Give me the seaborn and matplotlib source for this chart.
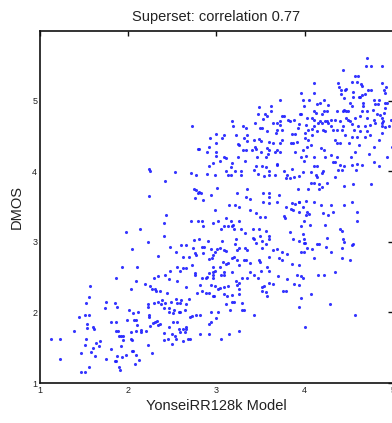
import matplotlib
matplotlib.use("Agg")
import matplotlib.pyplot as plt
import seaborn as sns
import pandas as pd

# (YonseiRR128k Model score, DMOS) pairs, grouped by region
upper_mid = [
    (2.72,4.65),(3.18,4.72),(3.19,4.64),(3.48,4.91),(3.47,4.81),(3.62,4.92),(3.62,4.85),(3.55,4.81),
    (3.57,4.78),(3.53,4.74),(3.64,4.69),(3.44,4.69),(3.49,4.62),(3.51,4.61),(3.57,4.57),(3.30,4.64),
    (3.33,4.62),(3.34,4.52),(3.22,4.52),(3.08,4.52),(3.00,4.53),(3.06,4.48),(2.93,4.48),(2.99,4.40),
    (3.24,4.39),(3.26,4.38),(3.35,4.43),(3.31,4.47),(3.42,4.45),(3.48,4.46),(3.50,4.43),(3.59,4.41),
    (3.57,4.33),(3.60,4.30),(3.64,4.40),(3.66,4.28),(3.44,4.34),(3.45,4.32),(3.40,4.31),(3.33,4.31),
    (3.30,4.31),(2.92,4.35),(2.79,4.32),(2.80,4.32),(2.89,4.27),(2.99,4.27),(3.08,4.20),(3.11,4.19),
    (2.99,4.22),(3.24,4.20),(3.46,4.20),(3.56,4.20),(3.58,4.25),(3.50,4.28),
]
upper_right = [
    (4.71,5.61),(4.69,5.50),(4.75,5.50),(4.88,5.50),(4.43,5.44),(4.57,5.35),(4.60,5.35),(4.59,5.26),
    (4.64,5.24),(4.65,5.21),(4.54,5.26),(4.38,5.25),(4.39,5.20),(4.11,5.25),(4.88,5.25),(4.92,5.20),
    (4.46,5.16),(4.41,5.15),(4.47,5.17),(4.55,5.12),(4.72,5.16),(4.75,5.16),(4.68,5.09),(4.65,5.08),
    (4.63,5.06),(4.61,5.06),(4.90,5.16),(4.91,5.11),(3.72,5.01),(3.96,5.11),(4.11,5.11),(4.41,5.09),
    (4.44,5.04),(4.05,5.01),(3.98,5.01),(4.22,5.01),(4.55,5.05),(4.79,5.01),(4.84,5.01),(4.66,4.97),
    (4.66,4.92),(4.80,4.96),(4.83,4.96),(4.91,4.97),(4.93,4.97),(4.14,4.96),(4.17,4.97),(4.26,4.94),
    (3.99,4.92),(4.51,4.97),(4.54,4.92),(4.45,4.87),(4.43,4.86),(4.47,4.86),(4.49,4.86),(4.36,4.86),
    (4.25,4.86),(4.22,4.86),(4.11,4.86),(4.13,4.83),(4.19,4.82),(4.65,4.85),(4.71,4.85),(4.77,4.87),
    (4.82,4.82),(4.91,4.90),(4.90,4.83),(3.77,4.79),(3.74,4.78),(3.72,4.72),(3.81,4.73),(3.83,4.72),
    (3.95,4.81),(3.96,4.81),(3.88,4.73),(4.02,4.75),(4.08,4.75),(4.11,4.73),(4.17,4.71),(4.23,4.72),
    (4.25,4.71),(4.30,4.73),(4.34,4.73),(4.47,4.75),(4.49,4.73),(4.57,4.75),(4.63,4.78),(4.70,4.75),
    (4.78,4.73),(4.87,4.75),(4.85,4.80),(4.89,4.71),(4.98,4.73),(3.68,4.68),(3.72,4.66),(3.68,4.58),
    (3.74,4.58),(3.67,4.54),(3.94,4.67),(4.01,4.66),(4.04,4.59),(4.08,4.60),(4.11,4.64),(4.15,4.69),
    (4.19,4.69),(4.26,4.69),(4.30,4.65),(4.32,4.59),(4.40,4.71),(4.43,4.64),(4.51,4.71),(4.54,4.67),
    (4.56,4.59),(4.60,4.64),(4.68,4.64),(4.74,4.66),(4.80,4.68),(4.88,4.68),(4.88,4.64),(4.91,4.63),
    (4.96,4.64),(4.88,4.54),(4.63,4.57),(4.70,4.57),(4.74,4.52),(3.85,4.53),(3.89,4.53),(3.92,4.61),
    (4.00,4.54),(4.08,4.52),(4.14,4.57),(4.21,4.59),(4.23,4.57),(4.36,4.59),(4.42,4.59),(4.46,4.52),
    (4.53,4.49),(4.59,4.49),(4.68,4.49),(4.84,4.44),(3.74,4.45),(3.84,4.40),(3.87,4.40),(3.91,4.42),
    (4.04,4.45),(4.00,4.47),(3.98,4.31),(4.02,4.35),(4.07,4.38),(4.18,4.33),(4.22,4.31),(4.34,4.45),
    (4.36,4.40),(4.40,4.40),(4.50,4.40),(4.62,4.38),(4.79,4.35),(3.72,4.40),(3.68,4.31),(3.72,4.27),
    (3.89,4.28),(3.96,4.21),(4.01,4.22),(4.11,4.21),(4.23,4.21),(4.30,4.23),(4.36,4.20),(4.52,4.21),
    (4.57,4.28),(4.73,4.25),(4.93,4.21),(4.99,4.35),
]
middle_left = [
    (2.24,4.04),(2.25,4.00),(2.24,3.65),(1.98,3.14),(2.13,3.18),(2.22,3.00),(2.04,2.90),(2.34,2.80),
    (1.93,2.65),(2.10,2.65),
]
middle_mid = [
    (3.04,4.15),(2.96,4.12),(2.91,4.08),(3.17,4.12),(3.16,4.06),(3.32,4.15),(3.45,4.08),(3.51,4.07),
    (3.56,4.06),(2.53,3.99),(2.71,3.98),(2.77,3.95),(2.89,3.96),(2.98,3.95),(3.11,4.00),(3.13,3.95),
    (3.16,3.95),(3.21,4.00),(3.28,4.00),(3.28,3.95),(3.42,4.02),(3.47,3.96),(3.54,3.93),(3.60,3.95),
    (3.60,4.00),(2.42,3.87),(3.01,3.77),(2.74,3.75),(2.77,3.74),(2.80,3.71),(2.83,3.69),(2.79,3.70),
    (2.76,3.62),(2.85,3.60),(2.94,3.66),(3.23,3.70),(3.35,3.75),(3.33,3.63),(3.38,3.61),(3.53,3.70),
    (3.59,3.70),(3.60,3.64),(3.53,3.57),(3.59,3.55),(3.14,3.53),(3.21,3.53),(3.25,3.49),(2.98,3.45),
    (3.38,3.45),(3.45,3.41),(3.49,3.36),(3.55,3.35),(2.43,3.38),(2.40,3.27),(2.71,3.30),(2.79,3.30),
    (2.84,3.30),(2.85,3.23),(2.96,3.27),(3.02,3.30),(3.11,3.34),(3.16,3.29),(3.09,3.23),(3.13,3.22),
    (3.17,3.22),(3.19,3.24),(3.05,3.18),(3.26,3.30),(3.20,3.18),(3.28,3.18),(3.32,3.12),(3.41,3.18),
    (3.48,3.18),(3.56,3.15),(2.40,3.08),(2.74,3.03),(2.80,3.04),(2.90,3.01),(3.06,3.02),(3.22,3.04),
    (3.41,3.06),(3.43,3.04),(3.49,3.08),(3.51,3.01),(3.59,3.08),(3.60,3.04),(2.47,2.93),(2.54,2.86),
    (2.60,2.95),(2.66,2.95),(2.73,2.91),(2.76,2.84),(2.84,2.93),(2.86,2.93),(2.85,2.84),(2.77,2.82),
    (2.69,2.78),(2.62,2.78),(2.94,2.90),(2.98,2.86),(3.01,2.90),(3.04,2.91),(3.08,2.89),(3.11,2.87),
    (3.21,2.97),(3.23,2.89),(3.26,2.92),(3.32,2.92),(3.35,2.89),(3.45,2.98),(3.56,2.97),(3.52,2.91),
    (3.64,2.89),(2.96,2.82),(2.95,2.77),(2.92,2.76),(3.07,2.72),(3.11,2.69),(3.17,2.77),(3.20,2.79),
    (3.23,2.75),(3.31,2.75),(3.33,2.74),(3.48,2.75),(3.60,2.78),(2.55,2.65),(2.62,2.63),(2.65,2.63),
    (2.72,2.67),(3.04,2.64),(2.96,2.64),(3.13,2.70),(3.26,2.67),(3.38,2.70),(3.49,2.71),(3.57,2.65),
]
middle_right = [
    (3.68,4.11),(3.69,4.09),(3.86,4.04),(3.99,4.15),(4.10,4.08),(4.14,4.07),(4.21,4.00),(4.20,3.98),
    (4.32,4.13),(4.34,4.14),(4.40,4.09),(4.38,4.02),(4.42,4.02),(4.45,4.08),(4.54,4.09),(4.59,4.11),
    (4.65,4.09),(4.58,4.02),(4.78,4.13),(4.84,4.08),(3.66,3.95),(3.76,4.00),(3.80,3.95),(3.79,3.90),
    (3.83,3.90),(3.88,3.92),(3.93,3.93),(3.98,3.99),(4.07,3.99),(4.13,3.95),(4.14,3.92),(4.11,3.83),
    (4.07,3.84),(4.16,3.82),(4.20,3.78),(4.25,3.84),(4.34,3.92),(4.45,3.79),(4.55,3.82),(4.75,3.82),
    (3.92,3.75),(4.04,3.75),(4.16,3.75),(3.71,3.67),(3.68,3.57),(3.79,3.50),(3.85,3.55),(3.89,3.54),
    (3.93,3.56),(3.94,3.56),(4.01,3.58),(4.10,3.56),(4.18,3.53),(4.30,3.53),(4.45,3.53),(4.54,3.57),
    (3.84,3.46),(3.87,3.45),(3.93,3.42),(3.98,3.49),(4.03,3.42),(4.05,3.40),(4.01,3.38),(4.21,3.41),
    (4.26,3.38),(4.32,3.42),(4.59,3.42),(3.77,3.37),(3.78,3.34),(3.99,3.29),(4.06,3.24),(3.96,3.23),
    (4.23,3.24),(4.40,3.19),(4.42,3.15),(4.59,3.30),(3.83,3.14),(3.87,3.04),(3.93,3.01),(3.98,3.11),
    (3.99,3.04),(3.99,2.99),(4.00,2.98),(4.02,2.92),(3.96,2.85),(3.99,2.85),(4.08,2.90),(4.14,2.97),
    (4.16,2.97),(4.25,3.05),(4.24,2.93),(4.43,3.04),(4.45,3.00),(4.42,2.92),(4.53,2.96),(4.55,2.97),
    (4.30,2.85),(3.68,2.90),(3.74,2.86),(3.80,2.83),(3.71,2.77),(3.74,2.74),(3.85,2.68),(3.93,2.67),
    (4.11,2.77),(4.42,2.77),(4.51,2.74),
]
lower_left = [
    (1.86,2.49),(1.57,2.38),(2.09,2.45),(2.03,2.33),(2.19,2.40),(2.25,2.38),(2.27,2.33),(2.30,2.33),
    (2.32,2.30),(2.34,2.52),(2.29,2.49),(1.55,2.22),(1.52,2.14),(1.75,2.15),(1.85,2.14),(1.87,2.08),
    (1.74,2.06),(2.01,2.03),(2.05,1.99),(2.11,2.00),(2.22,2.12),(2.22,2.08),(2.29,2.14),(2.34,2.15),
    (2.23,1.97),(2.23,1.94),(1.44,1.94),(1.51,1.97),(1.56,1.97),(1.81,1.86),(1.86,1.86),(1.99,1.89),
    (2.09,1.89),(2.10,1.82),(2.06,1.90),(2.28,1.85),(2.30,1.87),(2.33,1.88),(2.34,1.82),(2.25,1.81),
    (1.38,1.74),(1.53,1.83),(1.53,1.78),(1.60,1.79),(1.61,1.77),(1.86,1.74),(1.88,1.74),(2.03,1.73),
    (2.09,1.74),(2.14,1.73),(2.15,1.75),(2.20,1.74),(1.13,1.62),(1.23,1.62),(1.52,1.62),(1.51,1.54),
    (1.64,1.57),(1.68,1.59),(1.67,1.52),(1.60,1.49),(1.58,1.44),(1.46,1.43),(1.62,1.38),(1.80,1.48),
    (1.92,1.52),(1.89,1.66),(1.92,1.67),(1.94,1.61),(2.03,1.62),(2.04,1.61),(1.94,1.67),(2.22,1.54),
    (2.27,1.43),(2.04,1.45),(2.05,1.45),(1.98,1.39),(2.09,1.39),(2.12,1.33),(1.87,1.38),(1.93,1.37),
    (1.75,1.34),(1.85,1.31),(1.86,1.31),(1.23,1.34),(1.56,1.23),(1.89,1.23),(1.91,1.19),(2.08,1.27),
    (1.47,1.15),(1.51,1.15),
]
lower_mid = [
    (2.42,2.53),(2.47,2.59),(2.59,2.59),(2.76,2.56),(2.76,2.53),(2.84,2.49),(2.88,2.49),(2.89,2.50),
    (2.92,2.56),(2.96,2.58),(2.96,2.53),(2.96,2.49),(2.98,2.59),(3.05,2.53),(3.09,2.57),(3.09,2.53),
    (3.18,2.57),(3.22,2.45),(3.25,2.42),(3.23,2.39),(3.29,2.49),(3.34,2.49),(3.38,2.57),(3.42,2.53),
    (3.47,2.49),(3.50,2.59),(3.60,2.59),(3.60,2.42),(3.54,2.38),(3.52,2.36),(3.51,2.30),(3.56,2.29),
    (3.57,2.23),(3.64,2.41),(2.46,2.47),(2.55,2.45),(2.66,2.36),(2.81,2.39),(2.94,2.39),(2.98,2.37),
    (3.02,2.33),(3.04,2.34),(3.08,2.36),(3.13,2.37),(3.26,2.33),(3.26,2.26),(2.78,2.28),(2.84,2.30),
    (2.88,2.27),(2.92,2.27),(2.96,2.23),(2.97,2.23),(3.08,2.26),(3.12,2.23),(3.17,2.25),(3.20,2.15),
    (3.18,2.15),(3.11,2.12),(3.29,2.14),(2.36,2.30),(2.44,2.28),(2.38,2.18),(2.42,2.13),(2.37,2.12),
    (2.49,2.15),(2.54,2.19),(2.55,2.13),(2.59,2.14),(2.60,2.17),(2.66,2.12),(2.46,2.07),(2.40,2.06),
    (2.52,2.03),(2.59,2.01),(2.64,2.03),(2.57,2.00),(2.51,1.99),(2.46,2.00),(2.69,2.19),(2.70,1.94),
    (2.72,1.95),(2.77,1.97),(2.81,1.97),(2.94,2.01),(3.02,2.01),(3.00,1.92),(2.94,1.87),(2.91,1.83),
    (2.36,1.84),(2.51,1.86),(2.55,1.87),(2.68,1.63),(2.46,1.79),(2.58,1.76),(2.59,1.73),(2.65,1.79),
    (2.64,1.73),(2.62,1.76),(2.66,1.76),(2.81,1.70),(2.92,1.70),(3.14,1.70),(3.26,1.74),(3.29,2.04),
    (3.31,2.04),(3.15,2.04),(3.42,1.96),(2.40,1.71),(2.50,1.70),(2.53,1.66),(2.54,1.62),(2.40,1.61),
    (2.45,1.62),(2.50,1.55),(2.62,1.59),(2.70,1.62),(3.05,1.62),
]
lower_right = [
    (3.70,2.52),(3.80,2.48),(3.91,2.53),(3.96,2.52),(3.98,2.49),(3.88,2.41),(3.93,2.39),(4.15,2.53),
    (4.22,2.53),(4.34,2.57),(3.75,2.30),(3.79,2.30),(4.07,2.26),(3.96,2.20),(3.93,2.08),(4.29,2.12),
    (4.57,1.96),(4.00,1.79),
]

title_text = "Superset: correlation 0.77"
x_label = "YonseiRR128k Model"
y_label = "DMOS"
x_ticks = [1, 2, 3, 4, 5]
y_ticks = [1, 2, 3, 4, 5]

pairs = (upper_mid + upper_right + middle_left + middle_mid + middle_right
         + lower_left + lower_mid + lower_right)
df = pd.DataFrame(pairs, columns=["model", "dmos"])

sns.set_style("white")
plt.rcParams["font.family"] = ["Liberation Sans", "DejaVu Sans"]

fig = plt.figure(figsize=(3.92, 4.23), dpi=100)
ax = fig.add_axes([40 / 392, 40 / 423, 353 / 392, 352 / 423])

sns.scatterplot(data=df, x="model", y="dmos", ax=ax, color="#2020ff",
                s=5, linewidth=0, marker="o", alpha=0.9, legend=False)

ax.set_xlim(1, 5)
ax.set_ylim(1, 5.99)
ax.set_xticks(x_ticks)
ax.set_yticks(y_ticks)
ax.set_xticklabels([str(t) for t in x_ticks], fontsize=6.5, color="#222222")
ax.set_yticklabels([str(t) for t in y_ticks], fontsize=6.5, color="#222222")
ax.tick_params(direction="in", length=3.5, width=1.0, color="#111111",
               top=True, right=True, pad=2)

for side in ["left", "bottom", "top", "right"]:
    ax.spines[side].set_visible(True)
    ax.spines[side].set_color("#111111")
    ax.spines[side].set_linewidth(1.2)

ax.set_title(title_text, fontsize=10.5, color="#222222", pad=7)
ax.set_xlabel(x_label, fontsize=10.5, color="#222222", labelpad=3)
ax.set_ylabel(y_label, fontsize=10.5, color="#222222", labelpad=6)

fig.savefig("out.png", dpi=100, facecolor="white")
